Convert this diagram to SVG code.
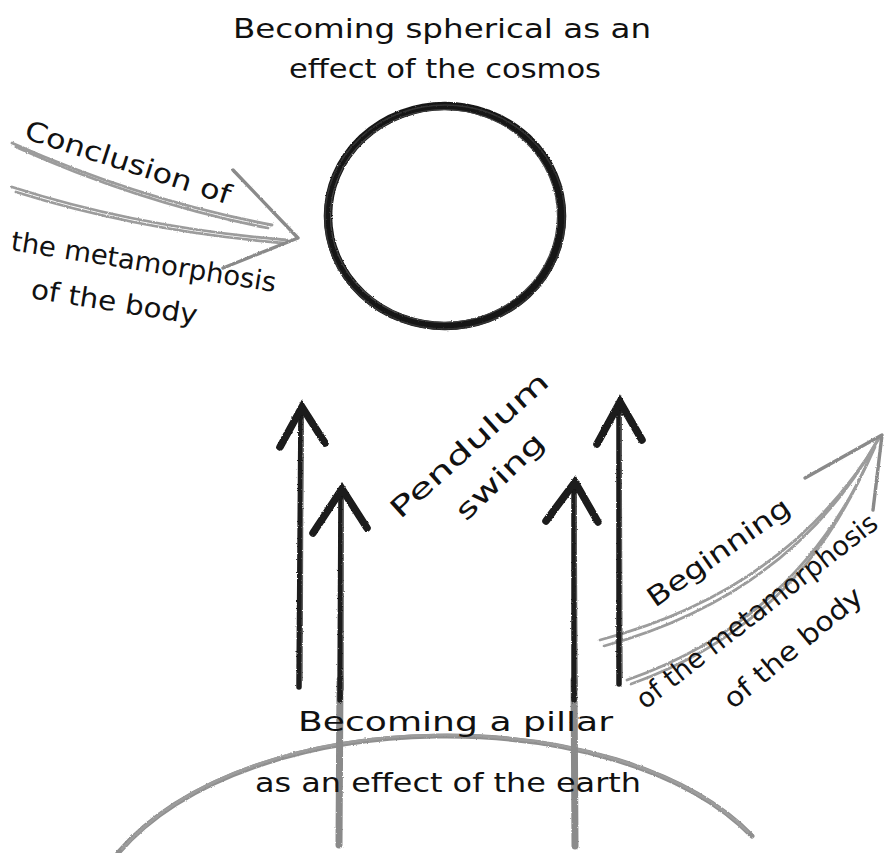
<svg xmlns="http://www.w3.org/2000/svg" width="885" height="853" viewBox="0 0 885 853">
  <defs>
    <filter id="pencil" x="-5%" y="-5%" width="110%" height="110%">
      <feTurbulence type="fractalNoise" baseFrequency="0.8" numOctaves="2" seed="3" result="noise"/>
      <feDisplacementMap in="SourceGraphic" in2="noise" scale="2.2" xChannelSelector="R" yChannelSelector="G"/>
    </filter>
  </defs>
  <style>
    .lbl { font-family: "DejaVu Sans", "Liberation Sans", sans-serif; font-size: 27px; fill: #111111; }
    .dark { fill: none; stroke: #1a1a1a; stroke-width: 5.5; stroke-linecap: round; stroke-linejoin: round; }
    .darkhl { fill: none; stroke: #5a5a5a; stroke-width: 1.4; stroke-linecap: round; }
    .darkhead { fill: none; stroke: #1a1a1a; stroke-width: 7.5; stroke-linecap: round; stroke-linejoin: miter; }
    .graybody { fill: none; stroke: #8a8a8a; stroke-width: 7; stroke-linecap: round; }
    .gray { fill: none; stroke: #9c9c9c; stroke-width: 2.8; stroke-linecap: round; stroke-linejoin: round; }
    .grayhead { fill: none; stroke: #8a8a8a; stroke-width: 3.4; stroke-linecap: round; stroke-linejoin: round; }
    .earth { fill: none; stroke: #8f8f8f; stroke-width: 5; stroke-linecap: round; }
  </style>
  <rect width="885" height="853" fill="#ffffff"/>

  <g id="connectors" filter="url(#pencil)">
    <!-- earth arc -->
    <path class="earth" d="M118,853 C250,700 620,700 752,836"/>
    <path class="gray" d="M122,849 C255,698 618,702 748,832" stroke-width="1.5"/>

    <!-- left gray arrow: conclusion of metamorphosis -->
    <path class="gray" d="M12,143 Q140,200 272,225"/>
    <path class="gray" d="M16,147 Q140,203 268,228" stroke-width="1.4"/>
    <path class="gray" d="M12,187 Q140,228 287,240"/>
    <path class="gray" d="M16,192 Q140,231 283,243" stroke-width="1.4"/>
    <path class="grayhead" d="M233,170 L298,238 L223,268" stroke="#6e6e6e"/>

    <!-- right gray arrow: beginning of metamorphosis -->
    <path class="gray" d="M600,640 Q790,590 880,437"/>
    <path class="gray" d="M604,646 Q792,594 877,441" stroke-width="1.4"/>
    <path class="gray" d="M627,680 Q800,620 875,447"/>
    <path class="gray" d="M631,684 Q803,623 872,451" stroke-width="1.4"/>
    <path class="grayhead" d="M805,478 L882,435 L873,510"/>

    <!-- arrow A (tall left) -->
    <path class="dark" d="M299,687 L301,410"/>
    <path class="darkhl" d="M302,680 L303,420"/>
    <path class="darkhead" d="M280,447 L302,407 L325,443"/>

    <!-- arrow B (left, rising from earth) -->
    <path class="graybody" d="M339,845 L340,680"/>
    <path class="dark" d="M340,700 L341,493"/>
    <path class="darkhl" d="M343,690 L343,500"/>
    <path class="darkhead" d="M313,533 L342,489 L367,528"/>

    <!-- arrow C (right, rising from earth) -->
    <path class="graybody" d="M575,846 L574,680"/>
    <path class="dark" d="M574,700 L574,487"/>
    <path class="darkhl" d="M577,690 L576,495"/>
    <path class="darkhead" d="M546,521 L575,482 L598,522"/>

    <!-- arrow D (tall right) -->
    <path class="dark" d="M619,684 L619,406"/>
    <path class="darkhl" d="M622,676 L621,415"/>
    <path class="darkhead" d="M597,444 L620,402 L642,440"/>
  </g>

  <g id="cosmos-sphere" filter="url(#pencil)">
    <ellipse cx="445" cy="216" rx="117" ry="110" fill="none" stroke="#161616" stroke-width="8.5"/>
    <ellipse cx="445" cy="217" rx="120" ry="112" fill="none" stroke="#333" stroke-width="1.6"/>
    <ellipse cx="444" cy="216" rx="113.5" ry="106.5" fill="none" stroke="#444" stroke-width="1.2"/>
  </g>

  <g id="label-top">
    <text class="lbl" x="233" y="38" textLength="418" lengthAdjust="spacingAndGlyphs">Becoming spherical as an</text>
    <text class="lbl" x="289" y="78" textLength="312" lengthAdjust="spacingAndGlyphs">effect of the cosmos</text>
  </g>

  <g id="label-conclusion">
    <text class="lbl" transform="translate(23,138) rotate(18)" textLength="215" lengthAdjust="spacingAndGlyphs">Conclusion of</text>
    <text class="lbl" transform="translate(10,250) rotate(9)" textLength="268" lengthAdjust="spacingAndGlyphs">the metamorphosis</text>
    <text class="lbl" transform="translate(30,298) rotate(9)" textLength="168" lengthAdjust="spacingAndGlyphs">of the body</text>
  </g>

  <g id="label-pendulum">
    <text class="lbl" transform="translate(400,520) rotate(-42)" textLength="203" lengthAdjust="spacingAndGlyphs">Pendulum</text>
    <text class="lbl" transform="translate(466,522) rotate(-44)" textLength="112" lengthAdjust="spacingAndGlyphs">swing</text>
  </g>

  <g id="label-beginning">
    <text class="lbl" transform="translate(655,608) rotate(-35)" textLength="168" lengthAdjust="spacingAndGlyphs">Beginning</text>
    <text class="lbl" transform="translate(645,710) rotate(-38)" textLength="298" lengthAdjust="spacingAndGlyphs">of the metamorphosis</text>
    <text class="lbl" transform="translate(733,710) rotate(-40)" textLength="172" lengthAdjust="spacingAndGlyphs">of the body</text>
  </g>

  <g id="label-bottom">
    <text class="lbl" x="298" y="731" textLength="315" lengthAdjust="spacingAndGlyphs">Becoming a pillar</text>
    <text class="lbl" x="255" y="792" textLength="386" lengthAdjust="spacingAndGlyphs">as an effect of the earth</text>
  </g>
</svg>
